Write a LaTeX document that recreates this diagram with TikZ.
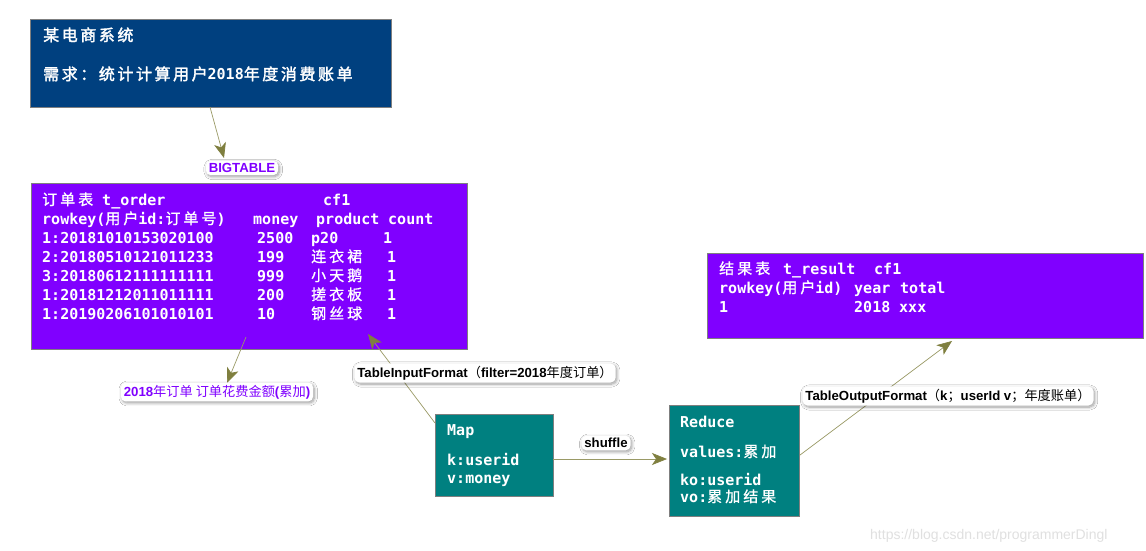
\documentclass[tikz,border=0pt]{standalone}
\usepackage{fontspec}
\setmainfont{Liberation Sans}
\newfontfamily\mono{DejaVu Sans Mono}
\newfontfamily\cjk{Noto Sans CJK SC}[LetterSpace=20,FakeBold=1]
\newfontfamily\cjkb{Noto Sans CJK SC}[LetterSpace=16,FakeBold=2]
\newfontfamily\cjkl{Noto Sans CJK SC}
\usetikzlibrary{arrows.meta,shadows.blur}
\newcommand\zh[1]{{\cjk\mdseries #1}}
\newcommand\zhb[1]{{\cjkb\mdseries #1}}
\newcommand\zhl[1]{{\cjkl\mdseries #1}}
\definecolor{navyb}{HTML}{00407F}
\definecolor{vio}{HTML}{8000FF}
\definecolor{tealb}{HTML}{008080}
\definecolor{olv}{HTML}{9A9A66}
\definecolor{olvd}{HTML}{7F7F3F}
\definecolor{bord}{HTML}{7F7F7F}
\tikzset{
  box/.style={draw=bord, line width=1.2pt, anchor=north west, inner sep=0pt},
  txt/.style={inner sep=0pt, anchor=base west, text=white, font=\mono\bfseries\fontsize{15}{15}\selectfont},
  toptxt/.style={inner sep=0pt, anchor=base west, text=white, font=\mono\bfseries\fontsize{16}{16}\selectfont},
  lbl/.style={fill=white, rounded corners=5pt, inner xsep=3pt, inner ysep=2.5pt,
    font=\bfseries\fontsize{13.2}{15}\selectfont,
    blur shadow={shadow blur steps=8, shadow xshift=1.2pt, shadow yshift=-1.5pt,
      shadow blur radius=3pt, shadow opacity=40}},
  conn/.style={draw=olv, line width=0.7pt,
    -{Stealth[length=15pt,width=12pt,inset=4pt,color=olvd]}},
  wm/.style={inner sep=0pt, anchor=base west, text=black!12, font=\fontsize{14}{14}\selectfont}
}
\begin{document}
\begin{tikzpicture}[x=1pt,y=-1pt]
\useasboundingbox (0,0) rectangle (1146,551);
\fill[white] (0,0) rectangle (1146,551);

% top box
\node[box, fill=navyb, minimum width=361pt, minimum height=88pt] (sys) at (30,19) {};
\node[toptxt] (sys1) at (43,41) {\zhb{某电商系统}};
\node[toptxt] (sys2) at (43,80) {\zhb{需求：统计计算用户}{\fontsize{15}{15}\selectfont 2018}\zhb{年度消费账单}};

% order table
\node[box, fill=vio, minimum width=436pt, minimum height=166pt] (order) at (31,183) {};
\node[txt] (o00) at (42,205) {\zh{订单表} t\_order};
\node[txt] (o01) at (323,205) {cf1};
\node[txt] (o10) at (42,224) {rowkey(\zh{用户}id:\zh{订单号})};
\node[txt] (o11) at (253,224) {money};
\node[txt] (o12) at (316,224) {product};
\node[txt] (o13) at (388,224) {count};
\foreach \i/\y/\k/\m/\p/\cx in {
  1/243/1:20181010153020100/2500/p20/383,
  2/262/2:20180510121011233/199/\zh{连衣裙}/387,
  3/281/3:20180612111111111/999/\zh{小天鹅}/387,
  4/300/1:20181212011011111/200/\zh{搓衣板}/387,
  5/319/1:20190206101010101/10/\zh{钢丝球}/387}
{
  \node[txt] (ok\i) at (42,\y) {\k};
  \node[txt] (om\i) at (257,\y) {\m};
  \node[txt] (op\i) at (311,\y) {\p};
  \node[txt] (oc\i) at (\cx,\y) {1};
}

% result table
\node[box, fill=vio, minimum width=436pt, minimum height=85pt] (result) at (707,253) {};
\node[txt] (r00) at (719,274) {\zh{结果表}};
\node[txt] (r01) at (783,274) {t\_result};
\node[txt] (r02) at (874,274) {cf1};
\node[txt] (r10) at (719,293) {rowkey(\zh{用户}id)};
\node[txt] (r11) at (854,293) {year};
\node[txt] (r12) at (900,293) {total};
\node[txt] (r20) at (719,312) {1};
\node[txt] (r21) at (854,312) {2018};
\node[txt] (r22) at (899,312) {xxx};

% map box
\node[box, fill=tealb, minimum width=118pt, minimum height=82pt] (map) at (435,414) {};
\node[txt] (m0) at (447,435) {Map};
\node[txt] (m1) at (447,465) {k:userid};
\node[txt] (m2) at (447,483) {v:money};

% reduce box
\node[box, fill=tealb, minimum width=130pt, minimum height=111pt] (reduce) at (669,405) {};
\node[txt] (d0) at (680,427) {Reduce};
\node[txt] (d1) at (680,457) {values:\zh{累加}};
\node[txt] (d2) at (680,485) {ko:userid};
\node[txt] (d3) at (680,502) {vo:\zh{累加结果}};

% connector end points
\coordinate (a1s) at (210,107);
\coordinate (a1e) at (224,158);
\coordinate (a2s) at (246,337);
\coordinate (a2e) at (227,383);
\coordinate (a3s) at (435,423);
\coordinate (a3e) at (368,334);
\coordinate (a4s) at (553,459);
\coordinate (a4e) at (667,459);
\coordinate (a5s) at (800,455);
\coordinate (a5e) at (952,341);

\draw[conn] (a1s) -- (a1e);
\draw[conn] (a2s) -- (a2e);
\draw[conn] (a3s) -- (a3e);
\draw[conn] (a4s) -- (a4e);
\draw[conn] (a5s) -- (a5e);

% labels
\node[lbl, text=vio] (lbig) at (242,168) {BIGTABLE};
\node[lbl, text=vio] (lsum) at (217,392) {2018\zhl{年订单 订单花费金额}(\zhl{累加})};
\node[lbl] (lin) at (485,373) {TableInputFormat\zhl{（}filter=2018\zhl{年度订单）}};
\node[lbl] (lsh) at (606,443) {shuffle};
\node[lbl] (lout) at (948,396) {TableOutputFormat\zhl{（}k\zhl{；}userId v\zhl{；年度账单）}};

% watermark
\node[wm] (wmk) at (870,539) {https://blog.csdn.net/programmerDingl};
\end{tikzpicture}
\end{document}
